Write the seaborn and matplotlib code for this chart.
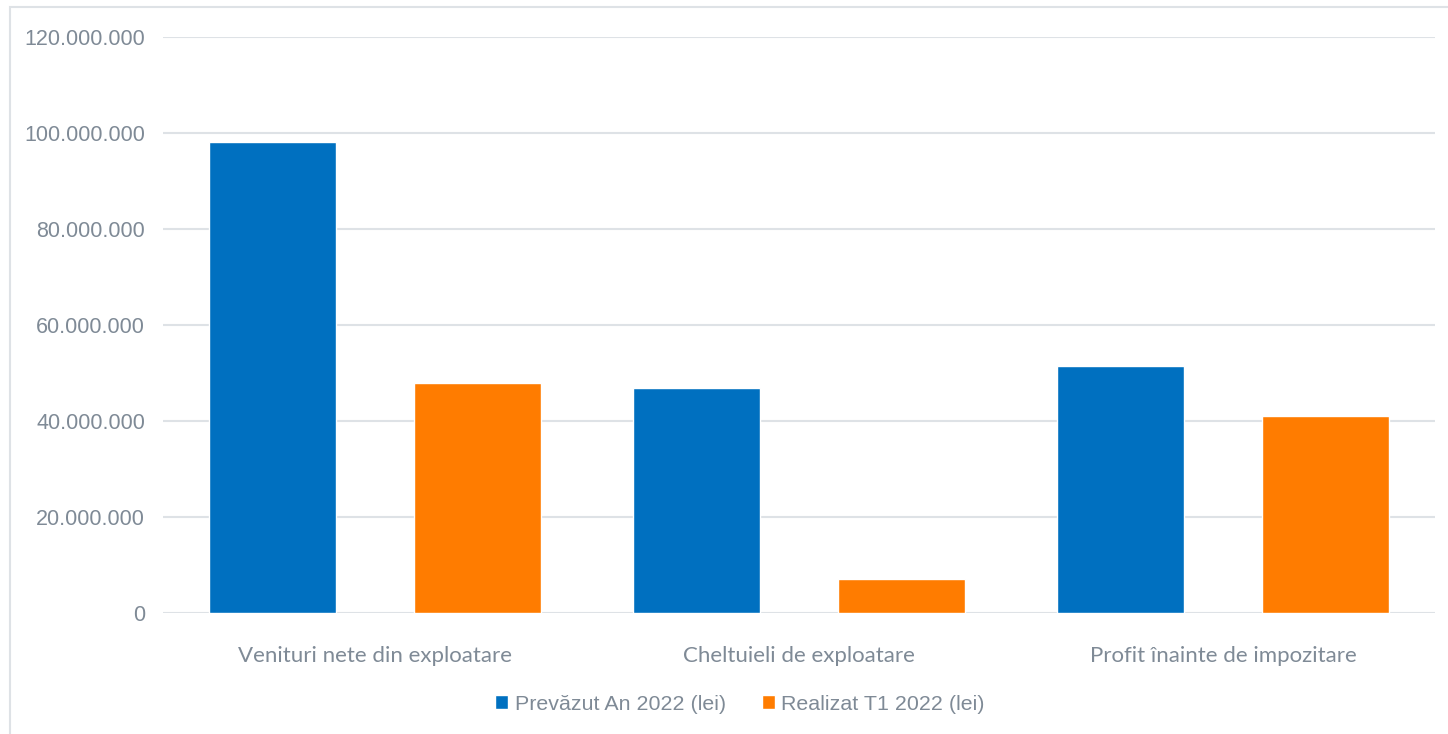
import pandas as pd
import matplotlib.pyplot as plt
import seaborn as sns
from matplotlib.ticker import FuncFormatter
from matplotlib.patches import Rectangle

categorii = ["Venituri nete din exploatare", "Cheltuieli de exploatare", "Profit înainte de impozitare"]
serii = ["Prevăzut An 2022 (lei)", "Realizat T1 2022 (lei)"]
prevazut = [98100000, 46900000, 51400000]
realizat = [47900000, 7100000, 41000000]
culori = ["#0070C0", "#FF7C00"]

df = pd.DataFrame({
    "categorie": categorii * 2,
    "serie": [serii[0]] * 3 + [serii[1]] * 3,
    "valoare": prevazut + realizat,
})

sns.set_style("white")
plt.rcParams["font.family"] = ["Liberation Sans", "DejaVu Sans"]
gri = "#7F8A96"

fig = plt.figure(figsize=(14.48, 7.34), dpi=100)
ax = fig.add_axes([163 / 1448, 1 - 613 / 734, (1435 - 163) / 1448, (613 - 37) / 734])

sns.barplot(data=df, x="categorie", y="valoare", hue="serie", palette=culori,
            width=0.968, gap=0.38, saturation=1, ax=ax, legend=True)

ax.set_xlim(-0.5, 2.5)
ax.set_ylim(0, 120000000)
ax.set_yticks(range(0, 120000001, 20000000))
ax.yaxis.set_major_formatter(FuncFormatter(lambda v, p: f"{int(v):,}".replace(",", ".")))
ax.grid(axis="y", color="#DEE2E6", linewidth=1.5)
ax.set_axisbelow(True)
for s in ax.spines.values():
    s.set_visible(False)
ax.tick_params(axis="y", colors=gri, labelsize=15.5, length=0, pad=13)
ax.tick_params(axis="x", colors=gri, length=0, pad=24)
for lbl in ax.get_xticklabels():
    lbl.set_fontfamily(["Lato", "DejaVu Sans"])
    lbl.set_fontsize(16)
ax.set_xlabel("")
ax.set_ylabel("")

ax.legend(loc="center", bbox_to_anchor=(740 / 1448, 1 - 704 / 734), bbox_transform=fig.transFigure,
          ncol=2, frameon=False, fontsize=15.4, labelcolor=gri, handlelength=0.6, handleheight=0.6,
          handletextpad=0.3, columnspacing=1.7)

# chenarul figurii
fig.patches.append(Rectangle((9.5 / 1448, -0.01), 1.0, 1 - 6.5 / 734 + 0.01, transform=fig.transFigure,
                             fill=False, edgecolor="#DEE2E6", linewidth=1.5))

fig.savefig("out.png", dpi=100)
